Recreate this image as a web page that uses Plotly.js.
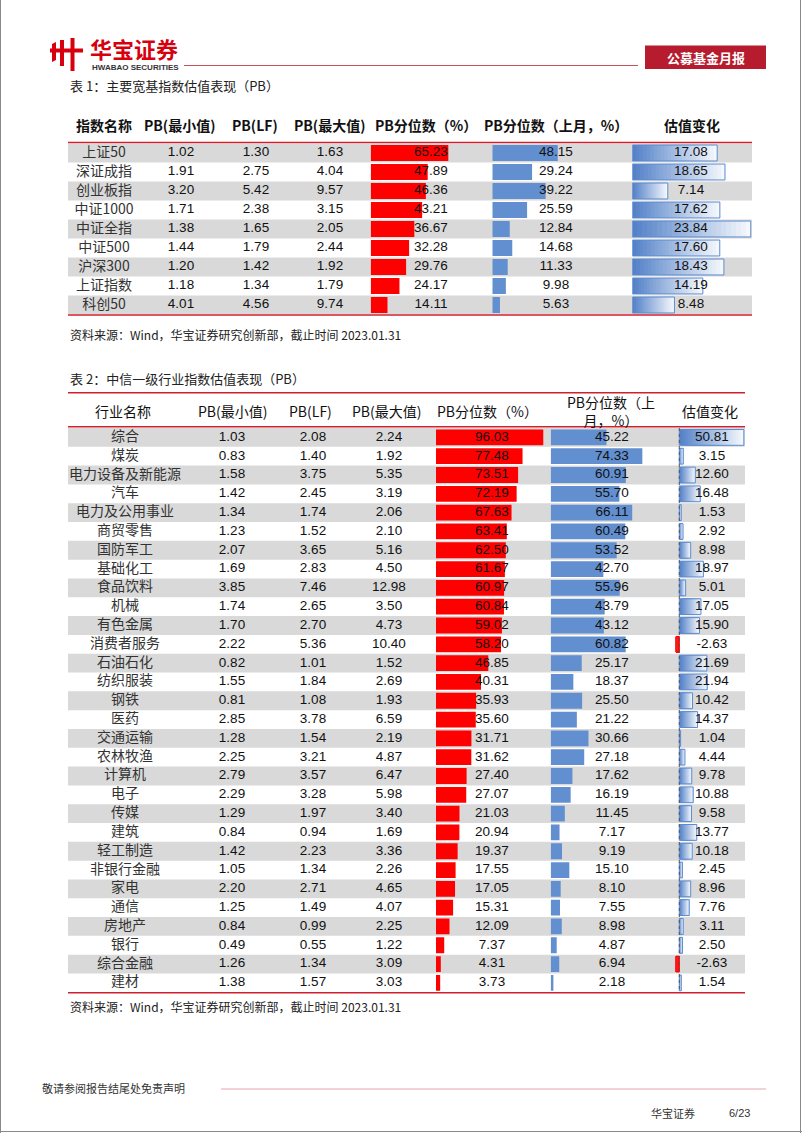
<!DOCTYPE html>
<html>
<head>
<meta charset="utf-8">
<script src="https://cdn.plot.ly/plotly-3.0.1.min.js"></script>
<style>html,body{margin:0;padding:0;background:#fff;}#chart{width:802px;height:1133px;}</style>
</head>
<body>
<div id="chart"></div>
<script>
// ---------- DATA ----------
// 表1：主要宽基指数
const idxNames   = ['上证50','深证成指','创业板指','中证1000','中证全指','中证500','沪深300','上证指数','科创50'];
const idxPbMin   = [1.02,1.91,3.20,1.71,1.38,1.44,1.20,1.18,4.01];
const idxPbLF    = [1.30,2.75,5.42,2.38,1.65,1.79,1.42,1.34,4.56];
const idxPbMax   = [1.63,4.04,9.57,3.15,2.05,2.44,1.92,1.79,9.74];
const idxPct     = [65.23,47.89,46.36,43.21,36.67,32.28,29.76,24.17,14.11];
const idxPctPrev = [48.15,29.24,39.22,25.59,12.84,14.68,11.33,9.98,5.63];
const idxChg     = [17.08,18.65,7.14,17.62,23.84,17.60,18.43,14.19,8.48];
const hdr1 = ['指数名称','PB(最小值)','PB(LF)','PB(最大值)','PB分位数（%）','PB分位数（上月，%）','估值变化'];

// 表2：中信一级行业
const indNames   = ['综合','煤炭','电力设备及新能源','汽车','电力及公用事业','商贸零售','国防军工','基础化工','食品饮料','机械','有色金属','消费者服务','石油石化','纺织服装','钢铁','医药','交通运输','农林牧渔','计算机','电子','传媒','建筑','轻工制造','非银行金融','家电','通信','房地产','银行','综合金融','建材'];
const indPbMin   = [1.03,0.83,1.58,1.42,1.34,1.23,2.07,1.69,3.85,1.74,1.70,2.22,0.82,1.55,0.81,2.85,1.28,2.25,2.79,2.29,1.29,0.84,1.42,1.05,2.20,1.25,0.84,0.49,1.26,1.38];
const indPbLF    = [2.08,1.40,3.75,2.45,1.74,1.52,3.65,2.83,7.46,2.65,2.70,5.36,1.01,1.84,1.08,3.78,1.54,3.21,3.57,3.28,1.97,0.94,2.23,1.34,2.71,1.49,0.99,0.55,1.34,1.57];
const indPbMax   = [2.24,1.92,5.35,3.19,2.06,2.10,5.16,4.50,12.98,3.50,4.73,10.40,1.52,2.69,1.93,6.59,2.19,4.87,6.47,5.98,3.40,1.69,3.36,2.26,4.65,4.07,2.25,1.22,3.09,3.03];
const indPct     = [96.03,77.48,73.51,72.19,67.63,63.41,62.50,61.67,60.97,60.84,59.02,58.20,46.85,40.31,35.93,35.60,31.71,31.62,27.40,27.07,21.03,20.94,19.37,17.55,17.05,15.31,12.09,7.37,4.31,3.73];
const indPctPrev = [45.22,74.33,60.91,55.70,66.11,60.49,53.52,42.70,55.96,43.79,43.12,60.82,25.17,18.37,25.50,21.22,30.66,27.18,17.62,16.19,11.45,7.17,9.19,15.10,8.10,7.55,8.98,4.87,6.94,2.18];
const indChg     = [50.81,3.15,12.60,16.48,1.53,2.92,8.98,18.97,5.01,17.05,15.90,-2.63,21.69,21.94,10.42,14.37,1.04,4.44,9.78,10.88,9.58,13.77,10.18,2.45,8.96,7.76,3.11,2.50,-2.63,1.54];
const hdr2 = ['行业名称','PB(最小值)','PB(LF)','PB(最大值)','PB分位数（%）','PB分位数（上<br>月，%）','估值变化'];

const title1 = '表 1：主要宽基指数估值表现（PB）';
const title2 = '表 2：中信一级行业指数估值表现（PB）';
const source = '资料来源：Wind，华宝证券研究创新部，截止时间 2023.01.31';

// ---------- LAYOUT HELPERS ----------
const W = 802, H = 1133;
const px = x => x / W;
const py = y => 1 - y / H;
const CJK = '"Noto Sans CJK SC", "Noto Sans", sans-serif';
const NUM = '"Liberation Sans", Arial, sans-serif';
const RED = '#ff0000', BLUE = '#628fcf', LINE_RED = '#d0202e', GRAY = '#d9d9d9';

const layout = {
  width: W, height: H, margin: {l:0, r:0, t:0, b:0},
  paper_bgcolor: '#ffffff', plot_bgcolor: 'rgba(0,0,0,0)',
  showlegend: false, barmode: 'overlay', bargap: 0.16,
  shapes: [], annotations: []
};
const traces = [];
let nX = 0;
function newX(d0, d1, range, yref) {
  nX++;
  const key = nX === 1 ? 'xaxis' : 'xaxis' + nX;
  layout[key] = {domain: [px(d0), px(d1)], range: range, visible: false, fixedrange: true, anchor: yref};
  return nX === 1 ? 'x' : 'x' + nX;
}
function textCol(cx, yref, ys, texts, font) {
  const xa = newX(cx - 40, cx + 40, [-1, 1], yref);
  traces.push({type: 'scatter', mode: 'text', x: ys.map(() => 0), y: ys, text: texts,
    textfont: font, xaxis: xa, yaxis: yref, hoverinfo: 'skip', cliponaxis: false});
}
function barCol(zeroPx, ppu, range, yref, ys, vals, color) {
  const xa = newX(zeroPx + range[0] * ppu, zeroPx + range[1] * ppu, range, yref);
  traces.push({type: 'bar', orientation: 'h', x: vals, y: ys, xaxis: xa, yaxis: yref,
    marker: {color: color, line: {width: 0}}, hoverinfo: 'skip'});
  return xa;
}
function mix(a, b, t) {
  return 'rgb(' + a.map((c, i) => Math.round(c + (b[i] - c) * t)).join(',') + ')';
}
// gradient data bars: overlapping layers, each from its own start to the bar's end
function gradCol(zeroPx, ppu, range, yref, ys, vals) {
  const xa = newX(zeroPx + range[0] * ppu, zeroPx + range[1] * ppu, range, yref);
  const N = 24;
  const bS = [84, 130, 200], bE = [244, 247, 252];
  const rS = [255, 0, 0], rE = [255, 120, 120];
  for (let k = 0; k < N; k++) {
    const t = k / (N - 1);
    traces.push({type: 'bar', orientation: 'h', y: ys,
      x: vals.map(v => v * (N - k) / N), base: vals.map(v => v * k / N),
      xaxis: xa, yaxis: yref, hoverinfo: 'skip',
      marker: {color: vals.map(v => v >= 0 ? mix(bS, bE, t) : mix(rS, rE, t * 0.4)), line: {width: 0}}});
  }
  traces.push({type: 'bar', orientation: 'h', y: ys, x: vals, xaxis: xa, yaxis: yref, hoverinfo: 'skip',
    marker: {color: 'rgba(0,0,0,0)', line: {color: vals.map(v => v >= 0 ? '#5b8bd0' : '#ff0000'), width: 1}}});
  return xa;
}
function fmt(arr) { return arr.map(v => v.toFixed(2)); }
function hline(y, x0, x1, color, w) {
  layout.shapes.push({type: 'line', xref: 'paper', yref: 'paper', x0: px(x0), x1: px(x1), y0: py(y), y1: py(y),
    line: {color: color, width: w}});
}
function ann(text, x, y, size, color, opts) {
  layout.annotations.push(Object.assign({text: text, xref: 'paper', yref: 'paper', x: px(x), y: py(y),
    showarrow: false, xanchor: 'center', yanchor: 'middle',
    font: {family: CJK, size: size, color: color}}, opts || {}));
}

// ---------- TABLE 1 ----------
const T1 = {left: 68, right: 752, top: 143.5, bottom: 314.5};
layout.yaxis = {domain: [py(T1.bottom), py(T1.top)], type: 'category', categoryorder: 'array',
  categoryarray: idxNames, range: [idxNames.length - 0.5, -0.5], visible: false, fixedrange: true,
  anchor: 'free', position: 0};
idxNames.forEach((n, i) => {
  if (i % 2 === 0) layout.shapes.push({type: 'rect', xref: 'paper', yref: 'y', x0: px(T1.left), x1: px(T1.right),
    y0: i - 0.5, y1: i + 0.5, fillcolor: GRAY, line: {width: 0}, layer: 'below'});
});
barCol(370.7, 1.19, [0, 100], 'y', idxNames, idxPct, RED);
barCol(492.3, 1.36, [0, 100], 'y', idxNames, idxPctPrev, BLUE);
gradCol(632.3, 4.97, [0, 24], 'y', idxNames, idxChg);
const f1n = {family: NUM, size: 13.5, color: '#111'};
textCol(104, 'y', idxNames, idxNames, {family: CJK, size: 14, color: '#333'});
textCol(181, 'y', idxNames, fmt(idxPbMin), f1n);
textCol(256, 'y', idxNames, fmt(idxPbLF), f1n);
textCol(330, 'y', idxNames, fmt(idxPbMax), f1n);
textCol(431, 'y', idxNames, fmt(idxPct), f1n);
textCol(556, 'y', idxNames, fmt(idxPctPrev), f1n);
textCol(691, 'y', idxNames, fmt(idxChg), f1n);
const h1x = [104, 179, 255, 329, 426, 556, 692];
hdr1.forEach((h, i) => ann(h, h1x[i], 125, 14, '#111', {font: {family: CJK, size: 14, color: '#111', weight: 'bold'}}));
hline(T1.top - 1, T1.left, T1.right, LINE_RED, 1.6);
hline(T1.bottom + 0.5, T1.left, T1.right, LINE_RED, 1.6);
ann(title1, 68, 86, 13, '#222', {xanchor: 'left'});
ann(source, 68, 335, 12, '#222', {xanchor: 'left'});

// ---------- TABLE 2 ----------
const T2 = {left: 68, right: 745, top: 428, bottom: 992.3};
layout.yaxis2 = {domain: [py(T2.bottom), py(T2.top)], type: 'category', categoryorder: 'array',
  categoryarray: indNames, range: [indNames.length - 0.5, -0.5], visible: false, fixedrange: true,
  anchor: 'free', position: 0};
indNames.forEach((n, i) => {
  if (i % 2 === 0) layout.shapes.push({type: 'rect', xref: 'paper', yref: 'y2', x0: px(T2.left), x1: px(T2.right),
    y0: i - 0.5, y1: i + 0.5, fillcolor: GRAY, line: {width: 0}, layer: 'below'});
});
barCol(436, 1.117, [0, 100], 'y2', indNames, indPct, RED);
barCol(550.7, 1.233, [0, 100], 'y2', indNames, indPctPrev, BLUE);
const xd = gradCol(679.3, 1.27, [-5, 52], 'y2', indNames, indChg);
layout.shapes.push({type: 'line', xref: xd, yref: 'y2', x0: 0, x1: 0, y0: -0.5, y1: indNames.length - 0.5,
  line: {color: '#555', width: 1, dash: 'dot'}});
const f2n = {family: NUM, size: 13.5, color: '#111'};
textCol(125, 'y2', indNames, indNames, {family: CJK, size: 14, color: '#333'});
textCol(232, 'y2', indNames, fmt(indPbMin), f2n);
textCol(313, 'y2', indNames, fmt(indPbLF), f2n);
textCol(389, 'y2', indNames, fmt(indPbMax), f2n);
textCol(492, 'y2', indNames, fmt(indPct), f2n);
textCol(612, 'y2', indNames, fmt(indPctPrev), f2n);
textCol(712, 'y2', indNames, fmt(indChg), f2n);
const h2x = [123, 233, 310, 387, 488, 611, 710];
hdr2.forEach((h, i) => ann(h, h2x[i], 411, 14, '#111', {font: {family: CJK, size: 14, color: '#111'}, align: 'center'}));
hline(392.7, T2.left, T2.right, LINE_RED, 1.6);
hline(426.7, T2.left, T2.right, LINE_RED, 1.6);
hline(T2.bottom + 0.5, T2.left, T2.right, LINE_RED, 1.6);
ann(title2, 68, 378, 13, '#222', {xanchor: 'left'});
ann(source, 68, 1006, 12, '#222', {xanchor: 'left'});

// ---------- PAGE HEADER / FOOTER ----------
const LOGO = '#d7000f';
function rectPx(x0, y0, x1, y1, color) {
  layout.shapes.push({type: 'rect', xref: 'paper', yref: 'paper', x0: px(x0), x1: px(x1), y0: py(y1), y1: py(y0),
    fillcolor: color, line: {width: 0}});
}
// logo mark
rectPx(50, 48.5, 83, 52.5, LOGO);
rectPx(60, 40, 64, 66, LOGO);
rectPx(70.5, 38, 74.5, 71, LOGO);
layout.shapes.push({type: 'path', xref: 'paper', yref: 'paper',
  path: 'M ' + px(52) + ' ' + py(44) + ' L ' + px(56) + ' ' + py(42) + ' L ' + px(56) + ' ' + py(60) + ' L ' + px(52) + ' ' + py(62) + ' Z',
  fillcolor: LOGO, line: {width: 0}});
ann('华宝证券', 134, 48.5, 22, LOGO, {font: {family: CJK, size: 22, color: LOGO, weight: 'bold'}, borderpad: 0});
ann('HWABAO SECURITIES', 135, 68, 8, '#333', {font: {family: NUM, size: 8, color: '#333', weight: 'bold'}, borderpad: 0});
hline(65.5, 184, 638, '#c8505a', 1);
rectPx(645, 45.5, 766, 69, '#b71c2e');
ann('公募基金月报', 705.5, 57.5, 13, '#ffffff', {font: {family: CJK, size: 13, color: '#ffffff', weight: 'bold'}});

ann('敬请参阅报告结尾处免责声明', 40, 1088, 11, '#333', {xanchor: 'left'});
hline(1089, 221, 766, '#e8a3ad', 1.2);
ann('华宝证券', 697, 1113, 11, '#333', {xanchor: 'right'});
ann('6/23', 752, 1113, 11, '#333', {xanchor: 'right', font: {family: NUM, size: 11, color: '#333'}});

// page frame
layout.shapes.push({type: 'line', xref: 'paper', yref: 'paper', x0: px(0.5), x1: px(0.5), y0: 0, y1: 1, line: {color: '#8a8a8a', width: 1}});
layout.shapes.push({type: 'line', xref: 'paper', yref: 'paper', x0: px(800.5), x1: px(800.5), y0: 0, y1: 1, line: {color: '#8a8a8a', width: 1}});
layout.shapes.push({type: 'line', xref: 'paper', yref: 'paper', x0: 0, x1: 1, y0: py(1131.5), y1: py(1131.5), line: {color: '#8a8a8a', width: 1}});

Plotly.newPlot('chart', traces, layout, {displayModeBar: false, staticPlot: true});
</script>
</body>
</html>
